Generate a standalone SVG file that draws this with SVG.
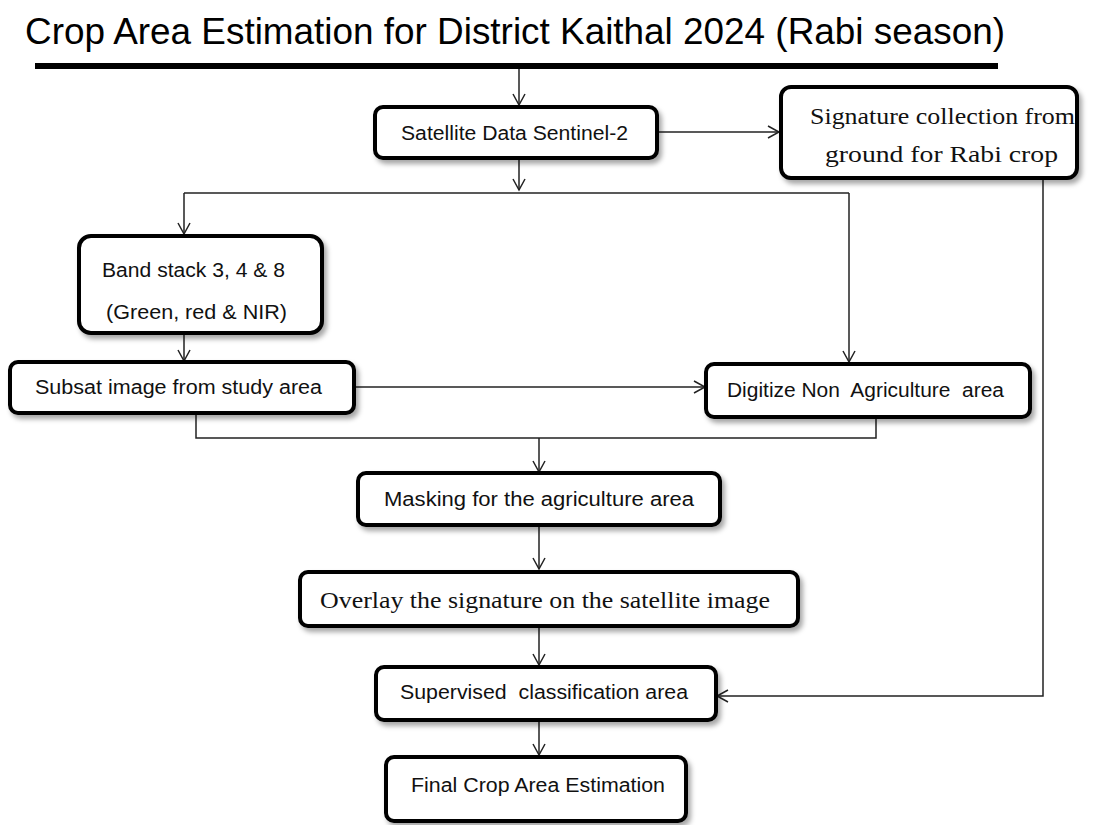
<svg xmlns="http://www.w3.org/2000/svg" width="1113" height="825" viewBox="0 0 1113 825">
<style>
.box{fill:#fff;stroke:#000;stroke-width:4;filter:url(#sh)}
.t{font-family:"Liberation Sans",Arial,sans-serif;font-size:20px;fill:#111;white-space:pre}
.ts{font-family:"Liberation Serif","Times New Roman",serif;font-size:24px;fill:#111;white-space:pre}
.c{fill:none;stroke:#222;stroke-width:1.5}
.a{marker-end:url(#ah)}
</style>
<defs>
<marker id="ah" markerWidth="14" markerHeight="14" refX="12" refY="7" orient="auto" markerUnits="userSpaceOnUse">
<polyline points="1,1 12,7 1,13" fill="none" stroke="#222" stroke-width="1.5"/>
</marker>
<filter id="sh" x="-10%" y="-20%" width="125%" height="150%">
<feDropShadow dx="3" dy="4" stdDeviation="2.5" flood-color="#000" flood-opacity="0.35"/>
</filter>
</defs>
<rect width="1113" height="825" fill="#fff"/>
<g id="title">
<text x="25" y="44" font-family="Liberation Sans,Arial,sans-serif" font-size="37" fill="#000" textLength="980" lengthAdjust="spacingAndGlyphs">Crop Area Estimation for District Kaithal 2024 (Rabi season)</text>
<rect x="35" y="63" width="963" height="6" fill="#000"/>
</g>
<g id="connectors">
<path class="c a" d="M519,69 V105"/>
<path class="c a" d="M657,132 H779"/>
<path class="c a" d="M519,158 V190"/>
<path class="c" d="M184,193 H849"/>
<path class="c a" d="M184,193 V234"/>
<path class="c a" d="M849,193 V362"/>
<path class="c a" d="M184,333 V361"/>
<path class="c a" d="M354,387 H705"/>
<path class="c" d="M196,413 V438 H876 V417"/>
<path class="c a" d="M539,438 V472"/>
<path class="c a" d="M539,525 V569"/>
<path class="c a" d="M539,626 V665"/>
<path class="c a" d="M1043,178 V696 H717"/>
<path class="c a" d="M539,720 V755"/>
</g>
<g id="n_satellite">
<rect class="box" x="375" y="107" width="282" height="51" rx="8"/>
<text class="t" x="401" y="140" textLength="227" lengthAdjust="spacingAndGlyphs">Satellite Data Sentinel-2</text>
</g>
<g id="n_signature">
<rect class="box" x="781" y="87" width="296" height="91" rx="10"/>
<text class="ts" x="810" y="124" textLength="265" lengthAdjust="spacingAndGlyphs">Signature collection from</text>
<text class="ts" x="825" y="162" textLength="233" lengthAdjust="spacingAndGlyphs">ground for Rabi crop</text>
</g>
<g id="n_band">
<rect class="box" x="79" y="236" width="243" height="97" rx="12"/>
<text class="t" x="102" y="277" textLength="183" lengthAdjust="spacingAndGlyphs">Band stack 3, 4 &amp; 8</text>
<text class="t" x="106" y="319" textLength="181" lengthAdjust="spacingAndGlyphs">(Green, red &amp; NIR)</text>
</g>
<g id="n_subsat">
<rect class="box" x="10" y="362" width="344" height="51" rx="8"/>
<text class="t" x="35" y="394" textLength="287" lengthAdjust="spacingAndGlyphs">Subsat image from study area</text>
</g>
<g id="n_digitize">
<rect class="box" x="706" y="364" width="324" height="53" rx="8"/>
<text class="t" x="727" y="397" textLength="277" lengthAdjust="spacingAndGlyphs">Digitize Non  Agriculture  area</text>
</g>
<g id="n_masking">
<rect class="box" x="358" y="473" width="362" height="52" rx="8"/>
<text class="t" x="384" y="506" textLength="310" lengthAdjust="spacingAndGlyphs">Masking for the agriculture area</text>
</g>
<g id="n_overlay">
<rect class="box" x="300" y="572" width="498" height="54" rx="8"/>
<text class="ts" x="320" y="608" textLength="450" lengthAdjust="spacingAndGlyphs">Overlay the signature on the satellite image</text>
</g>
<g id="n_supervised">
<rect class="box" x="376" y="667" width="340" height="53" rx="8"/>
<text class="t" x="400" y="699" textLength="288" lengthAdjust="spacingAndGlyphs">Supervised  classification area</text>
</g>
<g id="n_final">
<rect class="box" x="386" y="757" width="300" height="64" rx="8"/>
<text class="t" x="411" y="792" textLength="254" lengthAdjust="spacingAndGlyphs">Final Crop Area Estimation</text>
</g>
</svg>
